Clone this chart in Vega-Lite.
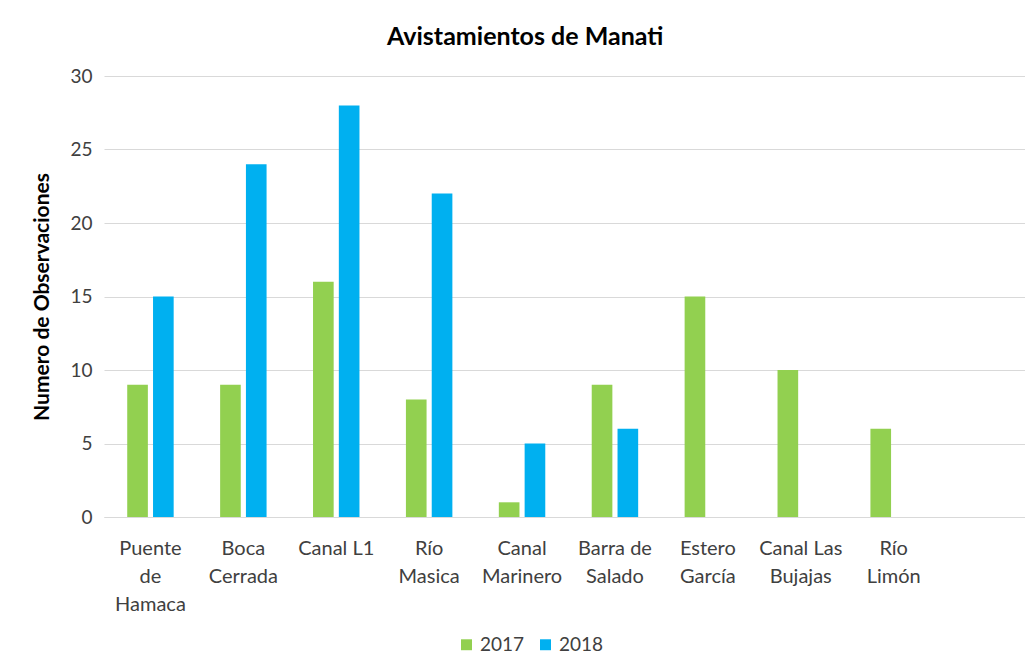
{
  "$schema": "https://vega.github.io/schema/vega-lite/v6.json",
  "autosize": {"type": "none"},
  "width": 921,
  "height": 441,
  "padding": {"left": 104, "top": 76, "right": 0, "bottom": 153},
  "background": "white",
  "title": {
    "text": "Avistamientos de Manati",
    "font": "Lato",
    "fontSize": 25,
    "fontWeight": "bold",
    "color": "#000000",
    "anchor": "start",
    "frame": "group",
    "dx": 283,
    "offset": 17
  },
  "data": {
    "values": [
      {"sitio": "Puente de Hamaca", "anio": "2017", "obs": 9},
      {"sitio": "Puente de Hamaca", "anio": "2018", "obs": 15},
      {"sitio": "Boca Cerrada", "anio": "2017", "obs": 9},
      {"sitio": "Boca Cerrada", "anio": "2018", "obs": 24},
      {"sitio": "Canal L1", "anio": "2017", "obs": 16},
      {"sitio": "Canal L1", "anio": "2018", "obs": 28},
      {"sitio": "Río Masica", "anio": "2017", "obs": 8},
      {"sitio": "Río Masica", "anio": "2018", "obs": 22},
      {"sitio": "Canal Marinero", "anio": "2017", "obs": 1},
      {"sitio": "Canal Marinero", "anio": "2018", "obs": 5},
      {"sitio": "Barra de Salado", "anio": "2017", "obs": 9},
      {"sitio": "Barra de Salado", "anio": "2018", "obs": 6},
      {"sitio": "Estero García", "anio": "2017", "obs": 15},
      {"sitio": "Canal Las Bujajas", "anio": "2017", "obs": 10},
      {"sitio": "Río Limón", "anio": "2017", "obs": 6}
    ]
  },
  "mark": {"type": "bar"},
  "encoding": {
    "x": {
      "field": "sitio",
      "type": "nominal",
      "sort": null,
      "scale": {
        "domain": ["Puente de Hamaca", "Boca Cerrada", "Canal L1", "Río Masica", "Canal Marinero", "Barra de Salado", "Estero García", "Canal Las Bujajas", "Río Limón", " "],
        "range": [0, 929],
        "paddingInner": 0.5,
        "paddingOuter": 0.25
      },
      "axis": {
        "title": null,
        "labelAngle": 0,
        "labelFont": "Lato",
        "labelFontSize": 20,
        "labelColor": "#404040",
        "labelPadding": 31,
        "labelLineHeight": 28,
        "labelBaseline": "middle",
        "labelLimit": 200,
        "ticks": false,
        "domainColor": "#d9d9d9",
        "domainWidth": 1,
        "grid": false,
        "labelExpr": "datum.value == 'Puente de Hamaca' ? ['Puente','de','Hamaca'] : datum.value == 'Boca Cerrada' ? ['Boca','Cerrada'] : datum.value == 'Canal L1' ? ['Canal L1'] : datum.value == 'Río Masica' ? ['Río','Masica'] : datum.value == 'Canal Marinero' ? ['Canal','Marinero'] : datum.value == 'Barra de Salado' ? ['Barra de','Salado'] : datum.value == 'Estero García' ? ['Estero','García'] : datum.value == 'Canal Las Bujajas' ? ['Canal Las','Bujajas'] : datum.value == 'Río Limón' ? ['Río','Limón'] : ''"
      }
    },
    "xOffset": {
      "field": "anio",
      "type": "nominal",
      "scale": {"domain": ["2017", "2018"], "paddingInner": 0.2, "paddingOuter": 0}
    },
    "y": {
      "field": "obs",
      "type": "quantitative",
      "scale": {"domain": [0, 30], "nice": false},
      "axis": {
        "title": "Numero de Observaciones",
        "titleFont": "Lato",
        "titleFontSize": 21,
        "titleFontWeight": "bold",
        "titleColor": "#000000",
        "titlePadding": 17,
        "values": [0, 5, 10, 15, 20, 25, 30],
        "labelFont": "Lato",
        "labelFontSize": 19,
        "labelColor": "#404040",
        "labelPadding": 12,
        "ticks": false,
        "domain": false,
        "grid": true,
        "gridColor": "#d9d9d9",
        "gridWidth": 1
      }
    },
    "color": {
      "field": "anio",
      "type": "nominal",
      "scale": {"domain": ["2017", "2018"], "range": ["#92d050", "#00b0f0"]},
      "legend": {
        "title": null,
        "orient": "none",
        "direction": "horizontal",
        "legendX": 353,
        "legendY": 559,
        "symbolType": "square",
        "symbolSize": 120,
        "symbolStrokeWidth": 0,
        "labelFont": "Lato",
        "labelFontSize": 19,
        "labelColor": "#404040",
        "columnPadding": 11,
        "labelOffset": 4,
        "padding": 0
      }
    }
  },
  "config": {
    "view": {"stroke": null}
  }
}
